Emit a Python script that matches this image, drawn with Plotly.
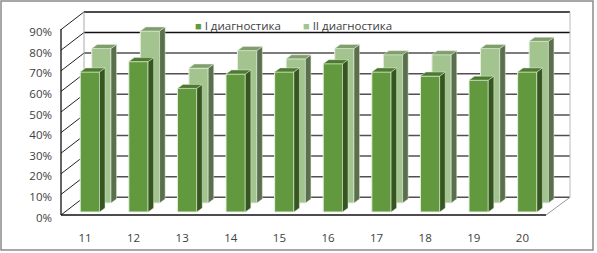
import plotly.graph_objects as go

categories = ["11", "12", "13", "14", "15", "16", "17", "18", "19", "20"]
diag1 = [68, 73, 60, 67, 68, 72, 68, 66, 64, 68]
diag2 = [75, 83.5, 65.5, 74, 70, 75, 72, 72, 75, 78.5]
y_ticks = [0, 10, 20, 30, 40, 50, 60, 70, 80, 90]
y_labels = ["0%", "10%", "20%", "30%", "40%", "50%", "60%", "70%", "80%", "90%"]
series_names = ["I диагностика", "II диагностика"]

W, H = 597, 253
PX_X, PX_Y = 48.6, 2.06            # pixels per category, pixels per percent
X0, Y0 = 85, 217.5                 # pixel position of category 0 / of 0 %


def ax(px):
    return (px - X0) / PX_X


def ay(py):
    return (Y0 - py) / PX_Y


idx = list(range(len(categories)))
BAR_W = 19.3 / PX_X
DX, DY = 5.5 / PX_X, 4 / PX_Y
COL1, COL2 = "#62993E", "#A3C48F"


def faces(values, centre, base):
    side_x, side_y, top_x, top_y = [], [], [], []
    for i, v in zip(idx, values):
        l = i + centre - BAR_W / 2
        r = i + centre + BAR_W / 2
        t = base + v
        side_x += [r, r + DX, r + DX, r, r, None]
        side_y += [base, base + DY, t + DY, t, base, None]
        top_x += [l, l + DX, r + DX, r, l, None]
        top_y += [t, t + DY, t + DY, t, t, None]
    return side_x, side_y, top_x, top_y


def poly(x, y, color, line="rgba(225,235,220,0.8)"):
    return go.Scatter(x=x, y=y, mode="lines", fill="toself", fillcolor=color,
                      line=dict(color=line, width=0.6), hoverinfo="skip",
                      showlegend=False)


C_FRONT, C_BACK = 0.10, 0.337
B_FRONT, B_BACK = ay(212), ay(203)

fig = go.Figure()
fig.add_trace(go.Bar(x=[i + C_BACK for i in idx], y=diag2, base=B_BACK, width=BAR_W,
                     name=series_names[1], showlegend=False,
                     marker=dict(color=COL2, line=dict(color="#E6EFE0", width=1))))
fig.add_trace(go.Bar(x=[i + C_FRONT for i in idx], y=diag1, base=B_FRONT, width=BAR_W,
                     name=series_names[0], showlegend=False,
                     marker=dict(color=COL1, line=dict(color="#E6EFE0", width=1))))

sx, sy, tx, ty = faces(diag2, C_BACK, B_BACK)
fig.add_trace(poly(sx, sy, "#5A6F4C"))
fig.add_trace(poly(tx, ty, "#7F9E6C"))
sx, sy, tx, ty = faces(diag1, C_FRONT, B_FRONT)
fig.add_trace(poly(sx, sy, "#35561F"))
fig.add_trace(poly(tx, ty, "#4C7A2F"))

shapes = []
GRID_DARK = "#505050"


def seg(x0, y0, x1, y1, color=GRID_DARK, width=1.5):
    shapes.append(dict(type="line", layer="below", xref="x", yref="y",
                       x0=ax(x0), y0=ay(y0), x1=ax(x1), y1=ay(y1),
                       line=dict(color=color, width=width)))


for p in y_ticks:
    back = 197.3 - p * PX_Y
    front = 215 - p * PX_Y
    seg(84, back, 570, back, "#111111" if p >= 80 else GRID_DARK)
    seg(61, front, 84, back, "#222222", 1)
seg(84, 197.3, 84, 12, "#aaaaaa", 1)
seg(570, 197.3, 570, 12, "#bbbbbb", 1)
seg(61, 215, 61, 29, "#111111", 1.3)
seg(61, 215, 546, 215, "#111111", 1.5)
seg(546, 215, 570, 197.3, "#999999", 1)
shapes.append(dict(type="rect", xref="paper", yref="paper", layer="below",
                   x0=1 / W, x1=593 / W, y0=1 - 250 / H, y1=1 - 1 / H,
                   line=dict(color="#8a8a8a", width=1.5)))

FONT = dict(family="Open Sans", size=11.5, color="#404040")
legend_items = [(series_names[0], COL1, 194), (series_names[1], COL2, 302)]
annotations = [
    dict(xref="paper", yref="paper", x=px / W, y=1 - 26 / H, xanchor="left", yanchor="middle",
         showarrow=False, align="left", borderpad=0, font=FONT,
         text=f'<span style="color:{c};font-size:11px">■</span> {name}')
    for name, c, px in legend_items
]

fig.update_layout(
    width=W, height=H, margin=dict(l=0, r=0, t=0, b=0), autosize=False,
    paper_bgcolor="white", plot_bgcolor="rgba(0,0,0,0)", shapes=shapes,
    barmode="overlay", font=FONT, showlegend=False, annotations=annotations,
    xaxis=dict(range=[ax(0), ax(W)], tickmode="array", tickvals=idx, ticktext=categories,
               anchor="free", position=1 - 229 / H, showgrid=False, zeroline=False,
               showline=False, ticks="", tickfont=FONT),
    yaxis=dict(range=[ay(H), ay(0)], tickmode="array", tickvals=y_ticks, ticktext=y_labels,
               anchor="free", position=52 / W, showgrid=False, zeroline=False,
               showline=False, ticks="", tickfont=FONT),
)
fig.write_html("out.html", config=dict(displayModeBar=False),
               post_script="document.body.style.margin='0';document.body.style.overflow='hidden';")
